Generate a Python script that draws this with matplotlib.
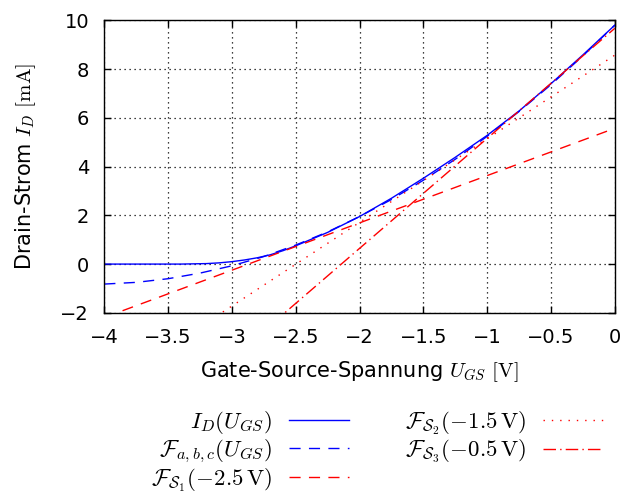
import matplotlib
matplotlib.use('Agg')
import matplotlib.pyplot as plt

plt.rcParams['mathtext.fontset'] = 'cm'
plt.rcParams['font.family'] = ['DejaVu Sans']
plt.rcParams['font.size'] = 14

# Kennlinie I_D(U_GS)
u_gs = [-4.0, -3.75, -3.5, -3.4, -3.3, -3.2, -3.1, -3.0, -2.9, -2.8, -2.7, -2.6,
        -2.5, -2.25, -2.0, -1.75, -1.5, -1.25, -1.0, -0.75, -0.5, -0.25, 0.0]
i_d = [0.0, 0.0, 0.0, 0.0, 0.01, 0.02, 0.05, 0.1, 0.17, 0.26, 0.38, 0.55,
       0.75, 1.3, 1.95, 2.7, 3.52, 4.38, 5.28, 6.28, 7.4, 8.58, 9.8]

# quadratischer Fit F_abc
u_fit = [-4.0, -3.75, -3.5, -3.25, -3.0, -2.75, -2.5, -2.25, -2.0, -1.75,
         -1.5, -1.25, -1.0, -0.75, -0.5, -0.25, 0.0]
i_fit = [-0.82, -0.75, -0.6, -0.37, -0.07, 0.31, 0.78, 1.32, 1.95, 2.65,
         3.44, 4.3, 5.24, 6.26, 7.36, 8.54, 9.8]

# Tangenten (Endpunkte bei -4 V und 0 V)
u_tan = [-4.0, 0.0]
i_s1 = [-2.19, 5.57]
i_s2 = [-5.15, 8.57]
i_s3 = [-8.38, 9.67]

fig = plt.figure(figsize=(6.21, 4.95), dpi=100)
ax = fig.add_axes([0.168, 0.368, 0.822, 0.591])

ax.plot(u_gs, i_d, color='blue', lw=1.0, label=r'$I_D(U_{GS})$')
ax.plot(u_fit, i_fit, color='blue', lw=1.0, ls=(0, (8, 6)),
        label=r'$\mathcal{F}_{a,b,c}(U_{GS})$')
ax.plot(u_tan, i_s1, color='red', lw=1.0, ls=(0, (8, 6)),
        label=r'$\mathcal{F}_{\mathcal{S}_1}(-2.5\,\mathrm{V})$')
ax.plot(u_tan, i_s2, color='red', lw=1.0, ls=(0, (1, 5)),
        label=r'$\mathcal{F}_{\mathcal{S}_2}(-1.5\,\mathrm{V})$')
ax.plot(u_tan, i_s3, color='red', lw=1.0, ls=(0, (9, 3, 1, 3)),
        label=r'$\mathcal{F}_{\mathcal{S}_3}(-0.5\,\mathrm{V})$')

ax.set_xlim(-4, 0)
ax.set_ylim(-2, 10)
ax.set_xticks([-4, -3.5, -3, -2.5, -2, -1.5, -1, -0.5, 0])
ax.set_xticklabels(['\u22124', '\u22123.5', '\u22123', '\u22122.5', '\u22122',
                    '\u22121.5', '\u22121', '\u22120.5', '0'])
ax.set_yticks([-2, 0, 2, 4, 6, 8, 10])
ax.tick_params(direction='in', top=True, right=True, length=5, width=1)
ax.tick_params(axis='x', pad=11)
ax.tick_params(axis='y', pad=11)
ax.grid(True, color='black', lw=0.9, ls=(0, (1, 3)))
for s in ax.spines.values():
    s.set_linewidth(1.0)

ax.set_xlabel(r'Gate-Source-Spannung $U_{GS}$ $\mathrm{[V]}$', fontsize=15, labelpad=9)
ax.set_ylabel(r'Drain-Strom $I_D$ $\mathrm{[mA]}$', fontsize=15, labelpad=16)

fig.legend(loc='upper center', bbox_to_anchor=(0.607, 0.206), ncol=2,
           frameon=False, markerfirst=False, handlelength=2.6,
           handletextpad=0.75, columnspacing=2.45, labelspacing=0.05,
           borderpad=0.2, fontsize=16.5)

fig.savefig('out.png', dpi=100)
